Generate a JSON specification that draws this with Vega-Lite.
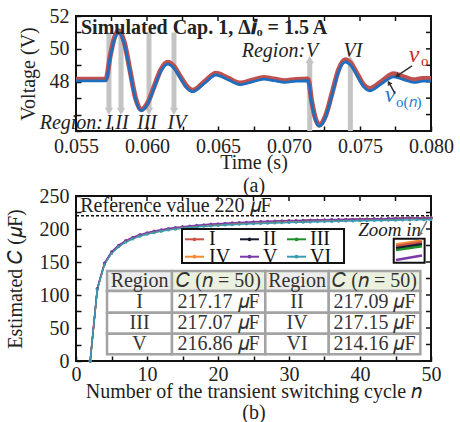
{
  "$schema": "https://vega.github.io/schema/vega-lite/v6.json",
  "background": "white",
  "padding": {"left": 4, "top": 5, "right": 5, "bottom": 0},
  "bounds": "flush",
  "spacing": 65,
  "config": {
    "font": "Liberation Serif",
    "view": {"stroke": "#111", "strokeWidth": 2},
    "axis": {"domain": false, "grid": false, "labelFont": "Liberation Serif", "labelFontSize": 20, "labelColor": "#222", "titleFont": "Liberation Serif", "titleFontSize": 20, "titleFontWeight": "normal", "titleColor": "#222", "tickColor": "#111", "tickSize": -5, "tickWidth": 1.5, "labelPadding": 12, "titlePadding": 14, "labelFlush": false, "labelOverlap": false},
    "text": {"font": "Liberation Serif"}
  },
  "datasets": {
    "von": [
      {"t":0.0550,"v":48.05},{"t":0.0571,"v":48.05},{"t":0.05742,"v":49.5},{"t":0.05772,"v":50.6},{"t":0.05801,"v":50.99},{"t":0.0584,"v":50.3},{"t":0.0588,"v":48.6},{"t":0.05919,"v":46.93},{"t":0.05958,"v":46.24},{"t":0.06005,"v":46.65},{"t":0.06052,"v":47.66},{"t":0.06099,"v":48.66},{"t":0.06146,"v":49.07},{"t":0.0619,"v":48.82},{"t":0.06234,"v":48.23},{"t":0.06278,"v":47.64},{"t":0.06322,"v":47.39},{"t":0.06404,"v":47.9},{"t":0.06486,"v":48.41},{"t":0.06571,"v":48.12},{"t":0.06657,"v":47.82},{"t":0.0674,"v":47.99},{"t":0.06822,"v":48.16},{"t":0.06897,"v":48.06},{"t":0.06972,"v":47.96},{"t":0.0705,"v":48.04},{"t":0.07134,"v":48.06},{"t":0.0716,"v":46.68},{"t":0.07187,"v":45.66},{"t":0.07213,"v":45.29},{"t":0.07259,"v":45.86},{"t":0.07305,"v":47.25},{"t":0.0735,"v":48.63},{"t":0.07396,"v":49.2},{"t":0.07439,"v":48.95},{"t":0.07482,"v":48.33},{"t":0.07525,"v":47.7},{"t":0.07568,"v":47.45},{"t":0.07652,"v":47.88},{"t":0.07737,"v":48.3},{"t":0.07808,"v":48.13},{"t":0.07878,"v":47.96},{"t":0.0794,"v":48.03},{"t":0.08,"v":48.05}
    ],
    "vo": [
      {"t":0.0550,"v":48.15},{"t":0.0571,"v":48.15},{"t":0.05742,"v":49.62},{"t":0.05772,"v":50.72},{"t":0.05801,"v":51.1},{"t":0.0584,"v":50.4},{"t":0.0588,"v":48.7},{"t":0.05919,"v":47.02},{"t":0.05958,"v":46.3},{"t":0.06005,"v":46.72},{"t":0.06052,"v":47.75},{"t":0.06099,"v":48.76},{"t":0.06146,"v":49.18},{"t":0.0619,"v":48.93},{"t":0.06234,"v":48.33},{"t":0.06278,"v":47.74},{"t":0.06322,"v":47.48},{"t":0.06404,"v":48.0},{"t":0.06486,"v":48.51},{"t":0.06571,"v":48.22},{"t":0.06657,"v":47.92},{"t":0.0674,"v":48.09},{"t":0.06822,"v":48.26},{"t":0.06897,"v":48.16},{"t":0.06972,"v":48.06},{"t":0.0705,"v":48.14},{"t":0.07134,"v":48.16},{"t":0.0716,"v":46.8},{"t":0.07187,"v":45.75},{"t":0.07213,"v":45.36},{"t":0.07259,"v":45.96},{"t":0.07305,"v":47.36},{"t":0.0735,"v":48.75},{"t":0.07396,"v":49.33},{"t":0.07439,"v":49.08},{"t":0.07482,"v":48.45},{"t":0.07525,"v":47.82},{"t":0.07568,"v":47.58},{"t":0.07652,"v":48.02},{"t":0.07737,"v":48.48},{"t":0.07808,"v":48.3},{"t":0.07878,"v":48.12},{"t":0.0794,"v":48.2},{"t":0.08,"v":48.2}
    ],
    "bars": [
      {"t":0.05732,"v":46.3,"v2":51.0},{"t":0.05817,"v":46.3,"v2":51.0},{"t":0.06014,"v":46.3,"v2":51.0},{"t":0.0619,"v":46.3,"v2":51.0},{"t":0.07146,"v":45.0,"v2":49.3},{"t":0.07432,"v":45.0,"v2":49.3}
    ],
    "heads": [
      {"t":0.05732,"v":46.2,"dir":"down"},{"t":0.05817,"v":46.2,"dir":"down"},{"t":0.06014,"v":46.2,"dir":"down"},{"t":0.0619,"v":46.2,"dir":"down"},{"t":0.07146,"v":49.35,"dir":"up"},{"t":0.07432,"v":49.35,"dir":"up"}
    ],
    "topticks": [{"t":0.055,"v":52},{"t":0.0575,"v":52},{"t":0.06,"v":52},{"t":0.0625,"v":52},{"t":0.065,"v":52},{"t":0.0675,"v":52},{"t":0.07,"v":52},{"t":0.0725,"v":52},{"t":0.075,"v":52},{"t":0.0775,"v":52},{"t":0.08,"v":52}],
    "rightticks": [{"t":0.08,"v":45},{"t":0.08,"v":46},{"t":0.08,"v":47},{"t":0.08,"v":48},{"t":0.08,"v":49},{"t":0.08,"v":50},{"t":0.08,"v":51},{"t":0.08,"v":52}],
    "btopticks": [{"n":0,"c":250},{"n":5,"c":250},{"n":10,"c":250},{"n":15,"c":250},{"n":20,"c":250},{"n":25,"c":250},{"n":30,"c":250},{"n":35,"c":250},{"n":40,"c":250},{"n":45,"c":250},{"n":50,"c":250}],
    "brightticks": [{"n":50,"c":0},{"n":50,"c":25},{"n":50,"c":50},{"n":50,"c":75},{"n":50,"c":100},{"n":50,"c":125},{"n":50,"c":150},{"n":50,"c":175},{"n":50,"c":200},{"n":50,"c":225},{"n":50,"c":250}],
    "curves": [
      {"n":2,"I":0,"II":0,"III":0,"IV":0,"V":0,"VI":0},
      {"n":3,"I":109,"II":109,"III":109,"IV":109,"V":110,"VI":108.5},
      {"n":4,"I":147,"II":147,"III":147,"IV":147,"V":148.5,"VI":146},
      {"n":5,"I":164,"II":164,"III":164,"IV":164,"V":165.5,"VI":163},
      {"n":6,"I":174,"II":174,"III":174,"IV":174,"V":175.5,"VI":173},
      {"n":7,"I":181,"II":181,"III":181,"IV":181,"V":182.5,"VI":180},
      {"n":8,"I":186,"II":186,"III":186,"IV":186,"V":187.5,"VI":185},
      {"n":9,"I":190,"II":190,"III":190,"IV":190,"V":191.5,"VI":189},
      {"n":10,"I":193,"II":193,"III":193,"IV":193,"V":194.5,"VI":192},
      {"n":11,"I":195.5,"II":195.5,"III":195.4,"IV":195.5,"V":197,"VI":194.5},
      {"n":12,"I":197.6,"II":197.5,"III":197.5,"IV":197.6,"V":199,"VI":196.5},
      {"n":13,"I":199.4,"II":199.3,"III":199.3,"IV":199.4,"V":200.8,"VI":198.3},
      {"n":14,"I":200.9,"II":200.8,"III":200.8,"IV":200.9,"V":202.3,"VI":199.8},
      {"n":15,"I":202.2,"II":202.1,"III":202.1,"IV":202.2,"V":203.6,"VI":201},
      {"n":16,"I":203.4,"II":203.3,"III":203.3,"IV":203.4,"V":204.7,"VI":202.1},
      {"n":17,"I":204.4,"II":204.3,"III":204.3,"IV":204.4,"V":205.7,"VI":203.1},
      {"n":18,"I":205.3,"II":205.2,"III":205.2,"IV":205.3,"V":206.6,"VI":204},
      {"n":19,"I":206.1,"II":206,"III":206,"IV":206.1,"V":207.4,"VI":204.7},
      {"n":20,"I":206.9,"II":206.8,"III":206.8,"IV":206.9,"V":208.1,"VI":205.4},
      {"n":21,"I":207.6,"II":207.5,"III":207.5,"IV":207.6,"V":208.8,"VI":206.1},
      {"n":22,"I":208.2,"II":208.1,"III":208.1,"IV":208.2,"V":209.4,"VI":206.6},
      {"n":23,"I":208.8,"II":208.7,"III":208.7,"IV":208.8,"V":209.9,"VI":207.1},
      {"n":24,"I":209.3,"II":209.2,"III":209.2,"IV":209.3,"V":210.4,"VI":207.6},
      {"n":25,"I":209.8,"II":209.7,"III":209.7,"IV":209.8,"V":210.9,"VI":208},
      {"n":26,"I":210.3,"II":210.2,"III":210.2,"IV":210.3,"V":211.3,"VI":208.4},
      {"n":27,"I":210.7,"II":210.6,"III":210.6,"IV":210.7,"V":211.7,"VI":208.8},
      {"n":28,"I":211.1,"II":211,"III":211,"IV":211.1,"V":212.1,"VI":209.2},
      {"n":29,"I":211.5,"II":211.4,"III":211.4,"IV":211.5,"V":212.4,"VI":209.5},
      {"n":30,"I":211.9,"II":211.8,"III":211.8,"IV":211.9,"V":212.7,"VI":209.8},
      {"n":31,"I":212.2,"II":212.1,"III":212.1,"IV":212.2,"V":213,"VI":210.1},
      {"n":32,"I":212.5,"II":212.4,"III":212.4,"IV":212.5,"V":213.3,"VI":210.4},
      {"n":33,"I":212.8,"II":212.7,"III":212.7,"IV":212.8,"V":213.6,"VI":210.7},
      {"n":34,"I":213.1,"II":213,"III":213,"IV":213.1,"V":213.8,"VI":211},
      {"n":35,"I":213.4,"II":213.3,"III":213.3,"IV":213.4,"V":214.1,"VI":211.3},
      {"n":36,"I":213.7,"II":213.6,"III":213.6,"IV":213.7,"V":214.3,"VI":211.5},
      {"n":37,"I":213.9,"II":213.8,"III":213.8,"IV":213.9,"V":214.5,"VI":211.8},
      {"n":38,"I":214.2,"II":214.1,"III":214.1,"IV":214.2,"V":214.7,"VI":212},
      {"n":39,"I":214.4,"II":214.3,"III":214.3,"IV":214.4,"V":214.9,"VI":212.2},
      {"n":40,"I":214.6,"II":214.5,"III":214.5,"IV":214.6,"V":215.1,"VI":212.4},
      {"n":41,"I":214.9,"II":214.8,"III":214.8,"IV":214.9,"V":215.3,"VI":212.6},
      {"n":42,"I":215.1,"II":215,"III":215,"IV":215.1,"V":215.5,"VI":212.8},
      {"n":43,"I":215.3,"II":215.2,"III":215.2,"IV":215.3,"V":215.7,"VI":213},
      {"n":44,"I":215.5,"II":215.4,"III":215.4,"IV":215.5,"V":215.9,"VI":213.2},
      {"n":45,"I":215.8,"II":215.7,"III":215.7,"IV":215.8,"V":216.1,"VI":213.4},
      {"n":46,"I":216.1,"II":216,"III":216,"IV":216.1,"V":216.3,"VI":213.6},
      {"n":47,"I":216.3,"II":216.2,"III":216.2,"IV":216.3,"V":216.5,"VI":213.8},
      {"n":48,"I":216.6,"II":216.5,"III":216.5,"IV":216.6,"V":216.6,"VI":213.9},
      {"n":49,"I":216.9,"II":216.8,"III":216.8,"IV":216.9,"V":216.7,"VI":214},
      {"n":50,"I":217.17,"II":217.09,"III":217.07,"IV":217.15,"V":216.86,"VI":214.16}
    ],
    "leg": [
      {"series":"I","n":15.35,"n2":18.03,"nm":16.69,"ln":18.73,"c":184.4},
      {"series":"II","n":23.1,"n2":25.77,"nm":24.44,"ln":26.34,"c":184.4},
      {"series":"III","n":29.72,"n2":32.39,"nm":31.06,"ln":32.96,"c":184.4},
      {"series":"IV","n":15.35,"n2":18.03,"nm":16.69,"ln":18.73,"c":158},
      {"series":"V","n":23.1,"n2":25.77,"nm":24.44,"ln":26.34,"c":158},
      {"series":"VI","n":29.72,"n2":32.39,"nm":31.06,"ln":32.96,"c":158}
    ],
    "inset": [
      {"series":"IV","n":45.07,"c":176.5},{"series":"IV","n":48.73,"c":182.5},
      {"series":"I","n":45.07,"c":174},{"series":"I","n":48.73,"c":180},
      {"series":"II","n":45.07,"c":171},{"series":"II","n":48.73,"c":177},
      {"series":"III","n":45.07,"c":168},{"series":"III","n":48.73,"c":174},
      {"series":"V","n":45.07,"c":153},{"series":"V","n":48.73,"c":160}
    ],
    "cells": [
      {"n":4.37,"n2":13.52,"c":106,"c2":136.4,"kind":"hr"},
      {"n":13.52,"n2":26.66,"c":106,"c2":136.4,"kind":"hc"},
      {"n":26.66,"n2":35.6,"c":106,"c2":136.4,"kind":"hr"},
      {"n":35.6,"n2":48.5,"c":106,"c2":136.4,"kind":"hc"},
      {"n":4.37,"n2":13.52,"c":73.2,"c2":106,"kind":"cell"},
      {"n":13.52,"n2":26.66,"c":73.2,"c2":106,"kind":"cell"},
      {"n":26.66,"n2":35.6,"c":73.2,"c2":106,"kind":"cell"},
      {"n":35.6,"n2":48.5,"c":73.2,"c2":106,"kind":"cell"},
      {"n":4.37,"n2":13.52,"c":41.4,"c2":73.2,"kind":"cell"},
      {"n":13.52,"n2":26.66,"c":41.4,"c2":73.2,"kind":"cell"},
      {"n":26.66,"n2":35.6,"c":41.4,"c2":73.2,"kind":"cell"},
      {"n":35.6,"n2":48.5,"c":41.4,"c2":73.2,"kind":"cell"},
      {"n":4.37,"n2":13.52,"c":10.2,"c2":41.4,"kind":"cell"},
      {"n":13.52,"n2":26.66,"c":10.2,"c2":41.4,"kind":"cell"},
      {"n":26.66,"n2":35.6,"c":10.2,"c2":41.4,"kind":"cell"},
      {"n":35.6,"n2":48.5,"c":10.2,"c2":41.4,"kind":"cell"}
    ],
    "celltext": [
      {"n":8.95,"c":121.2,"label":"Region"},{"n":20.09,"c":121.2,"label":"𝐶 (𝑛 = 50)"},{"n":31.13,"c":121.2,"label":"Region"},{"n":42.05,"c":121.2,"label":"𝐶 (𝑛 = 50)"},
      {"n":8.95,"c":89.6,"label":"I"},{"n":20.09,"c":89.6,"label":"217.17 𝜇F"},{"n":31.13,"c":89.6,"label":"II"},{"n":42.05,"c":89.6,"label":"217.09 𝜇F"},
      {"n":8.95,"c":57.3,"label":"III"},{"n":20.09,"c":57.3,"label":"217.07 𝜇F"},{"n":31.13,"c":57.3,"label":"IV"},{"n":42.05,"c":57.3,"label":"217.15 𝜇F"},
      {"n":8.95,"c":25.8,"label":"V"},{"n":20.09,"c":25.8,"label":"216.86 𝜇F"},{"n":31.13,"c":25.8,"label":"VI"},{"n":42.05,"c":25.8,"label":"214.16 𝜇F"}
    ]
  },
  "vconcat": [
    {
      "width": 355,
      "height": 115,
      "encoding": {
        "x": {"field": "t", "type": "quantitative", "scale": {"domain": [0.055, 0.08], "nice": false, "zero": false},
          "axis": {"values": [0.055,0.0575,0.06,0.0625,0.065,0.0675,0.07,0.0725,0.075,0.0775,0.08], "labelExpr": "abs(datum.value*200 - round(datum.value*200)) < 0.01 ? format(datum.value, '.3f') : ''", "title": ["Time (s)", "(a)"], "titleLineHeight": 23, "labelPadding": 10, "titlePadding": -4}},
        "y": {"field": "v", "type": "quantitative", "scale": {"domain": [45, 52], "nice": false, "zero": false},
          "axis": {"values": [45,46,47,48,49,50,51,52], "labelExpr": "datum.value >= 48 && datum.value % 2 === 0 ? datum.label : ''", "title": "Voltage (V)", "titlePadding": 11}}
      },
      "layer": [
        {"data": {"name": "topticks"}, "mark": {"type": "tick", "orient": "vertical", "size": 5, "thickness": 1.5, "yOffset": 2.5, "color": "#111", "opacity": 1}},
        {"data": {"name": "rightticks"}, "mark": {"type": "tick", "orient": "horizontal", "size": 5, "thickness": 1.5, "xOffset": -2.5, "color": "#111", "opacity": 1}},
        {"data": {"name": "bars"}, "mark": {"type": "rule", "color": "#c4c4c4", "strokeWidth": 5}, "encoding": {"y2": {"field": "v2"}}},
        {"data": {"name": "heads"}, "mark": {"type": "point", "filled": true, "color": "#c4c4c4", "opacity": 1, "size": 70},
          "encoding": {"shape": {"field": "dir", "type": "nominal", "scale": {"domain": ["down", "up"], "range": ["triangle-down", "triangle-up"]}, "legend": null}}},
        {"data": {"name": "vo"}, "mark": {"type": "line", "color": "#c0504d", "strokeWidth": 5, "interpolate": "monotone"}},
        {"data": {"name": "von"}, "mark": {"type": "line", "color": "#1f6fc0", "strokeWidth": 2.8, "interpolate": "monotone"}},
        {"data": {"values": [{"t": 0.05535, "v": 50.9, "label": "Simulated Cap. 1, Δ𝒊ₒ = 1.5 A"}]},
          "mark": {"type": "text", "align": "left", "baseline": "alphabetic", "fontSize": 20, "fontWeight": "bold", "color": "#222"},
          "encoding": {"text": {"field": "label"}}},
        {"data": {"values": [{"t": 0.0569, "v": 45.15, "label": "Region:"}, {"t": 0.07113, "v": 49.52, "label": "Region:"}]},
          "mark": {"type": "text", "align": "right", "baseline": "alphabetic", "fontSize": 20, "fontStyle": "italic", "color": "#222"},
          "encoding": {"text": {"field": "label"}}},
        {"data": {"values": [{"t": 0.05732, "v": 45.15, "label": "I"}, {"t": 0.05824, "v": 45.15, "label": "II"}, {"t": 0.06, "v": 45.15, "label": "III"}, {"t": 0.06211, "v": 45.15, "label": "IV"}, {"t": 0.07162, "v": 49.52, "label": "V"}, {"t": 0.07451, "v": 49.52, "label": "VI"}]},
          "mark": {"type": "text", "align": "center", "baseline": "alphabetic", "fontSize": 20, "fontStyle": "italic", "color": "#222"},
          "encoding": {"text": {"field": "label"}}},
        {"data": {"values": [{"t": 0.0788, "v": 49.17, "label": "v"}]},
          "mark": {"type": "text", "align": "center", "baseline": "alphabetic", "fontSize": 24, "fontStyle": "italic", "color": "#d0262a"},
          "encoding": {"text": {"field": "label"}}},
        {"data": {"values": [{"t": 0.07711, "v": 46.75, "label": "v"}]},
          "mark": {"type": "text", "align": "center", "baseline": "alphabetic", "fontSize": 24, "fontStyle": "italic", "color": "#1f78d1"},
          "encoding": {"text": {"field": "label"}}},
        {"data": {"values": [{"t": 0.0793, "v": 48.97, "label": "o"}]},
          "mark": {"type": "text", "align": "left", "baseline": "alphabetic", "fontSize": 15, "color": "#d0262a"},
          "encoding": {"text": {"field": "label"}}},
        {"data": {"values": [{"t": 0.07754, "v": 46.44, "label": "o(𝑛)"}]},
          "mark": {"type": "text", "align": "left", "baseline": "alphabetic", "fontSize": 15, "color": "#1f78d1"},
          "encoding": {"text": {"field": "label"}}},
        {"data": {"values": [{"t": 0.07866, "v": 48.97, "t2": 0.07761, "v2": 48.36}, {"t": 0.07747, "v": 47.27, "t2": 0.07704, "v2": 47.94}]},
          "mark": {"type": "rule", "color": "#333", "strokeWidth": 1.5},
          "encoding": {"x2": {"field": "t2"}, "y2": {"field": "v2"}}},
        {"data": {"values": [{"t": 0.07761, "v": 48.36}]},
          "mark": {"type": "point", "shape": "triangle-up", "angle": 236, "filled": true, "color": "#333", "opacity": 1, "size": 30}},
        {"data": {"values": [{"t": 0.07704, "v": 47.94}]},
          "mark": {"type": "point", "shape": "triangle-up", "angle": 331, "filled": true, "color": "#333", "opacity": 1, "size": 30}}
      ]
    },
    {
      "width": 355,
      "height": 165,
      "encoding": {
        "x": {"field": "n", "type": "quantitative", "scale": {"domain": [0, 50], "nice": false, "zero": false},
          "axis": {"values": [0,5,10,15,20,25,30,35,40,45,50], "labelExpr": "datum.value % 10 === 0 ? datum.label : ''", "title": ["Number of the transient switching cycle 𝑛", "(b)"], "titleLineHeight": 21, "titlePadding": -3, "labelPadding": 8}},
        "y": {"field": "c", "type": "quantitative", "scale": {"domain": [0, 250], "nice": false, "zero": false},
          "axis": {"values": [0,25,50,75,100,125,150,175,200,225,250], "labelExpr": "datum.value % 50 === 0 ? datum.label : ''", "title": "Estimated 𝐶 (𝜇F)"}}
      },
      "layer": [
        {"data": {"name": "btopticks"}, "mark": {"type": "tick", "orient": "vertical", "size": 5, "thickness": 1.5, "yOffset": 2.5, "color": "#111", "opacity": 1}},
        {"data": {"name": "brightticks"}, "mark": {"type": "tick", "orient": "horizontal", "size": 5, "thickness": 1.5, "xOffset": -2.5, "color": "#111", "opacity": 1}},
        {"data": {"values": [{"n": 0, "c": 220}, {"n": 50, "c": 220}]}, "mark": {"type": "line", "color": "#111", "strokeWidth": 1.5, "strokeDash": [3, 2]}},
        {"data": {"values": [{"n": 0.6, "c": 226, "label": "Reference value 220 𝜇F"}]},
          "mark": {"type": "text", "align": "left", "baseline": "alphabetic", "fontSize": 20, "color": "#222"},
          "encoding": {"text": {"field": "label"}}},
        {"data": {"name": "curves"}, "transform": [{"fold": ["I", "II", "III", "IV", "V", "VI"], "as": ["series", "c"]}],
          "mark": {"type": "line", "strokeWidth": 1.5, "point": {"filled": true, "size": 9}},
          "encoding": {"color": {"field": "series", "type": "nominal", "scale": {"domain": ["I", "II", "III", "IV", "V", "VI"], "range": ["#c9514a", "#1a1a2e", "#1f8f2a", "#f28a35", "#7b3aa8", "#3b9bb3"]}, "legend": null}}},
        {"data": {"values": [{"n": 14.93, "n2": 37.75, "c": 148.5, "c2": 200}]},
          "mark": {"type": "rect", "fill": "white", "stroke": "#111", "strokeWidth": 2},
          "encoding": {"x2": {"field": "n2"}, "y2": {"field": "c2"}}},
        {"data": {"name": "leg"}, "mark": {"type": "rule", "strokeWidth": 2},
          "encoding": {"x2": {"field": "n2"}, "color": {"field": "series", "type": "nominal", "legend": null}}},
        {"data": {"name": "leg"}, "mark": {"type": "point", "filled": true, "opacity": 1, "size": 14},
          "encoding": {"x": {"field": "nm", "type": "quantitative"}, "color": {"field": "series", "type": "nominal", "legend": null}}},
        {"data": {"name": "leg"}, "mark": {"type": "text", "align": "left", "baseline": "middle", "fontSize": 20, "color": "#111"},
          "encoding": {"x": {"field": "ln", "type": "quantitative"}, "text": {"field": "series"}}},
        {"data": {"values": [{"n": 44.75, "n2": 49.1, "c": 148.9, "c2": 185.3}]},
          "mark": {"type": "rect", "fill": "white", "stroke": "#111", "strokeWidth": 2},
          "encoding": {"x2": {"field": "n2"}, "y2": {"field": "c2"}}},
        {"data": {"name": "inset"}, "mark": {"type": "line", "strokeWidth": 2.5},
          "encoding": {"color": {"field": "series", "type": "nominal", "legend": null}}},
        {"data": {"values": [{"n": 48.6, "c": 189.4, "label": "Zoom in"}]},
          "mark": {"type": "text", "align": "right", "baseline": "alphabetic", "fontSize": 19, "fontStyle": "italic", "color": "#222"},
          "encoding": {"text": {"field": "label"}}},
        {"data": {"values": [{"n": 49.4, "c": 212, "n2": 48.45, "c2": 192.4}]},
          "mark": {"type": "rule", "color": "#777", "strokeWidth": 1.5},
          "encoding": {"x2": {"field": "n2"}, "y2": {"field": "c2"}}},
        {"data": {"values": [{"n": 48.45, "c": 192.4}]},
          "mark": {"type": "point", "shape": "triangle-up", "angle": 208, "filled": true, "color": "#777", "opacity": 1, "size": 25}},
        {"data": {"name": "cells"},
          "mark": {"type": "rect", "stroke": "#a3a3a3", "strokeWidth": 2.5},
          "encoding": {"x2": {"field": "n2"}, "y2": {"field": "c2"}, "fill": {"field": "kind", "type": "nominal", "scale": {"domain": ["hr", "hc", "cell"], "range": ["#ededed", "#ebf1de", "#ffffff"]}, "legend": null}}},
        {"data": {"name": "celltext"},
          "mark": {"type": "text", "align": "center", "baseline": "middle", "fontSize": 20, "color": "#333"},
          "encoding": {"text": {"field": "label"}}}
      ]
    }
  ]
}
